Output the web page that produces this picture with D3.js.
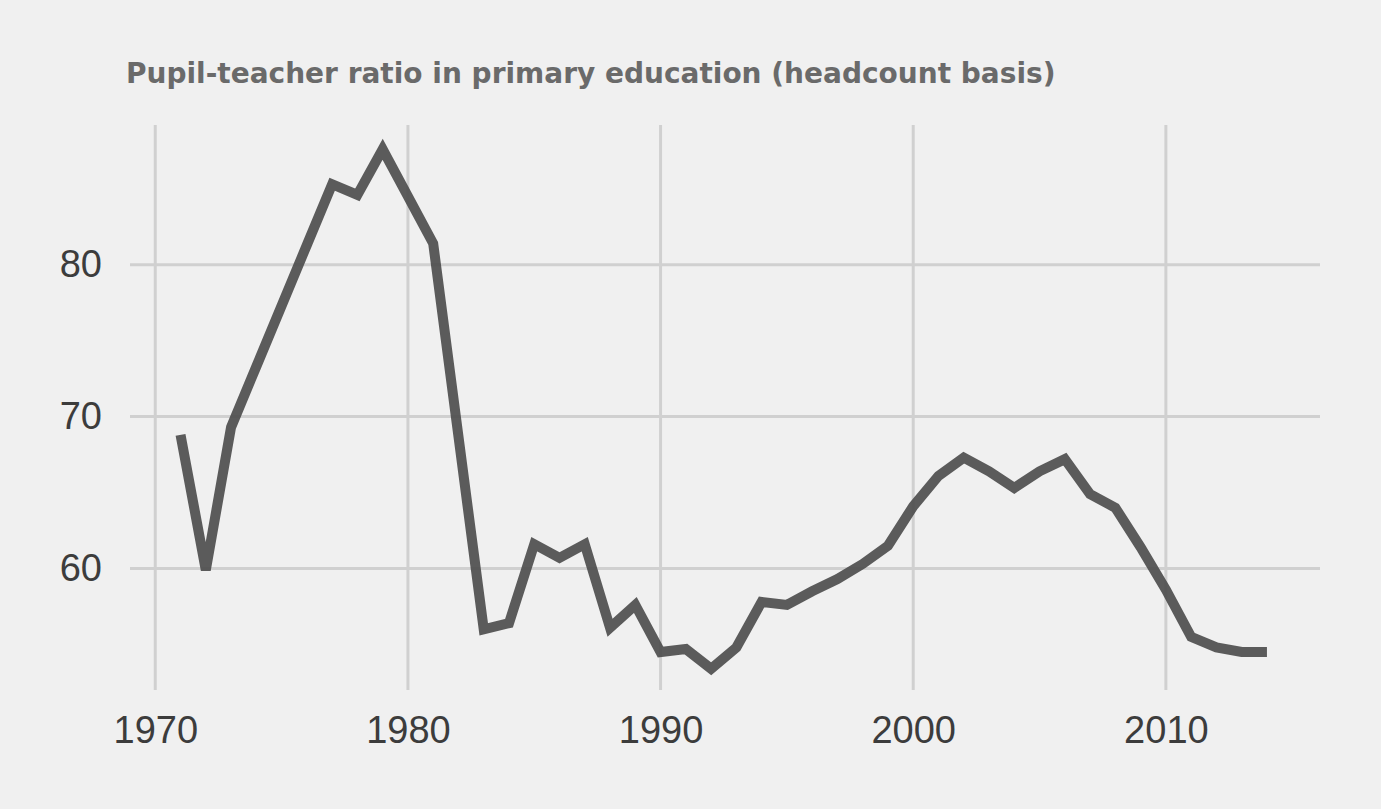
<!DOCTYPE html>
<html>
<head>
<meta charset="utf-8">
<script src="https://cdn.jsdelivr.net/npm/d3@7"></script>
<style>
  body { margin: 0; background: #f0f0f0; }
</style>
</head>
<body>
<div id="chart-area"></div>
<script>
// values
var years = [1971,1972,1973,1974,1975,1976,1977,1978,1979,1980,1981,1982,1983,1984,1985,1986,1987,1988,1989,1990,
             1991,1992,1993,1994,1995,1996,1997,1998,1999,2000,2001,2002,2003,2004,2005,2006,2007,2008,2009,2010,
             2011,2012,2013,2014];
var ratio = [68.8,59.9,69.3,73.3,77.3,81.3,85.3,84.6,87.6,84.5,81.4,68.7,56.0,56.4,61.6,60.7,61.6,56.1,57.6,54.5,
             54.7,53.4,54.8,57.8,57.6,58.5,59.3,60.3,61.5,64.1,66.1,67.3,66.4,65.3,66.4,67.2,64.9,64.0,61.4,58.6,
             55.5,54.8,54.5,54.5];
var xTicks = [1970, 1980, 1990, 2000, 2010];
var yTicks = [60, 70, 80];
var title = "Pupil-teacher ratio in primary education (headcount basis)";

var W = 1381, H = 809;
var m = {left: 130, right: 1320, top: 125, bottom: 690};

var svg = d3.select("#chart-area").append("svg")
    .attr("width", W)
    .attr("height", H)
    .style("background", "#f0f0f0");

var x = d3.scaleLinear().domain([1969.0, 2016.1]).range([m.left, m.right]);
var y = d3.scaleLinear().domain([52.0, 89.2]).range([m.bottom, m.top]);

// grid
svg.append("g").selectAll("line")
    .data(xTicks).enter().append("line")
    .attr("x1", d => x(d)).attr("x2", d => x(d))
    .attr("y1", m.top).attr("y2", m.bottom)
    .attr("stroke", "#d0d0d0").attr("stroke-width", 3);
svg.append("g").selectAll("line")
    .data(yTicks).enter().append("line")
    .attr("x1", m.left).attr("x2", m.right)
    .attr("y1", d => y(d)).attr("y2", d => y(d))
    .attr("stroke", "#d0d0d0").attr("stroke-width", 3);

// axes
var xAxis = d3.axisBottom(x).tickValues(xTicks).tickFormat(d3.format("d")).tickSize(0).tickPadding(26);
var gx = svg.append("g").attr("transform", "translate(0," + m.bottom + ")").call(xAxis);
var yAxis = d3.axisLeft(y).tickValues(yTicks).tickSize(0).tickPadding(28);
var gy = svg.append("g").attr("transform", "translate(" + m.left + ",0)").call(yAxis);
[gx, gy].forEach(function(g) {
    g.select(".domain").remove();
    g.selectAll("text")
        .attr("font-family", "Liberation Sans, Arial, sans-serif")
        .attr("font-size", "38px")
        .attr("fill", "#3c3c3c");
});

// line
var line = d3.line()
    .x(function(d, i) { return x(years[i]); })
    .y(function(d) { return y(d); });
svg.append("path")
    .datum(ratio)
    .attr("d", line)
    .attr("fill", "none")
    .attr("stroke", "#4a4a4a")
    .attr("stroke-opacity", 0.9)
    .attr("stroke-width", 10)
    .attr("stroke-linejoin", "miter");

// title
svg.append("text")
    .attr("x", 126)
    .attr("y", 83)
    .attr("font-family", "DejaVu Sans, sans-serif")
    .attr("font-weight", "bold")
    .attr("font-size", "28px")
    .attr("fill", "#6a6a6a")
    .text(title);
</script>
</body>
</html>
